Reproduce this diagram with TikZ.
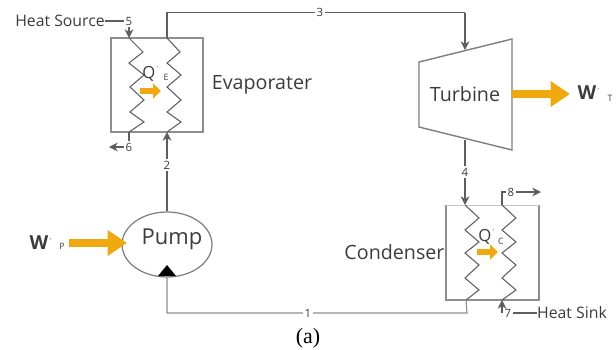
\documentclass[tikz,border=0pt]{standalone}
\usepackage{fontspec}
\setsansfont{Open Sans}
\setmainfont{Liberation Serif}
\usetikzlibrary{arrows.meta,shapes.geometric}
\definecolor{linegray}{HTML}{5E5E5E}
\definecolor{boxgray}{HTML}{8E8E8E}
\definecolor{workgold}{HTML}{EFA90F}
\definecolor{textgray}{HTML}{3C3C3C}
\tikzset{
  pipe/.style={draw=linegray,line width=0.65pt},
  flow/.style={pipe,-{Stealth[length=5pt,width=5pt]}},
  coil/.style={draw=linegray,line width=0.6pt},
  unitbox/.style={draw=boxgray,line width=0.9pt},
  lbl/.style={font=\sffamily\fontsize{11.2}{13}\selectfont,text=textgray,inner sep=0pt},
  heatlbl/.style={font=\sffamily\fontsize{9}{11}\selectfont,text=textgray,inner sep=0pt},
  qlbl/.style={font=\sffamily\fontsize{9.5}{11}\selectfont,text=textgray,inner sep=0pt},
  wlbl/.style={font=\sffamily\bfseries\fontsize{11}{13}\selectfont,text=textgray,inner sep=0pt},
  num/.style={font=\sffamily\fontsize{6.5}{7}\selectfont,text=textgray,fill=white,inner sep=1pt},
  sub/.style={font=\sffamily\fontsize{5}{6}\selectfont,text=textgray,inner sep=0pt},
  bigwork/.style={draw=workgold,line width=4.5pt,-{Triangle[length=11pt,width=14pt]}},
  smallwork/.style={draw=workgold,line width=3pt,-{Triangle[length=4.5pt,width=8.5pt]}}
}
\newcommand{\wdot}{\raisebox{5pt}{\fontsize{4}{4}\selectfont$\cdot$}}
\begin{document}
\begin{tikzpicture}[x=0.02cm,y=-0.02cm]
\useasboundingbox (0,0) rectangle (616,349);

% evaporater
\draw[unitbox] (111,38) rectangle (203,132);
\coordinate (evapleft) at (129,38);
\coordinate (evapleftend) at (129,132);
\coordinate (evapright) at (167,38);
\coordinate (evaprightend) at (167,132);
\draw[coil] (evapleft) -- (143,52) -- (129,63) -- (144,75) -- (130,87) -- (144,100) -- (130,112) -- (144,122) -- (evapleftend);
\draw[coil] (evapright) -- (180,52) -- (167,63) -- (181,75) -- (167,87) -- (181,100) -- (167,112) -- (181,122) -- (evaprightend);
\node[lbl] (evaplabel) at (262,85) {Evaporater};
\node[qlbl] (qe) at (151,73) {Q\wdot};
\node[sub] (qesub) at (166,77) {E};
\coordinate (qestart) at (140,91);
\coordinate (qeend) at (161,91);
\draw[smallwork] (qestart) -- (qeend);

% condenser
\draw[unitbox] (446,205) -- (446,300) -- (539,300) -- (539,205);
\draw[draw=boxgray!50,line width=0.5pt] (446,205) -- (539,205);
\coordinate (condleft) at (465,205);
\coordinate (condleftend) at (466,300);
\coordinate (condright) at (502,205);
\coordinate (condrightend) at (502,300);
\draw[coil] (condleft) -- (479,218) -- (465,230) -- (479,242) -- (465,253) -- (479,265) -- (465,278) -- (479,290) -- (condleftend);
\draw[coil] (condright) -- (516,218) -- (502,230) -- (516,242) -- (502,253) -- (516,265) -- (502,278) -- (516,290) -- (condrightend);
\node[lbl] (condlabel) at (394.5,252) {Condenser};
\node[qlbl] (qc) at (487,236) {Q\wdot};
\node[sub] (qcsub) at (501,241) {C};
\coordinate (qcstart) at (477,252);
\coordinate (qcend) at (498,252);
\draw[smallwork] (qcstart) -- (qcend);

% turbine
\draw[draw=linegray!80,line width=0.8pt,fill=white] (419,62) -- (512,39) -- (512,150) -- (419,127) -- cycle;
\coordinate (turbinein) at (465,50);
\coordinate (turbineout) at (465,140);
\node[lbl] (turbine) at (465,94) {Turbine};
\coordinate (wtstart) at (512,94);
\coordinate (wtend) at (570,94);
\draw[bigwork] (wtstart) -- (wtend);
\node[wlbl] (wt) at (589,93) {W\wdot};
\node[sub] (wtsub) at (610,98) {T};

% pump
\node[ellipse,draw=linegray!80,line width=0.7pt,minimum width=1.8cm,minimum height=1.3cm,inner sep=0pt] (pump) at (167,244.5) {};
\node[lbl,font=\sffamily\fontsize{12.5}{15}\selectfont] (pumplabel) at (172,239) {Pump};
\fill (167,265) -- (176,276) -- (158,276) -- cycle;
\coordinate (wpstart) at (69,243);
\coordinate (wpend) at (127,243);
\draw[bigwork] (wpstart) -- (wpend);
\node[wlbl] (wp) at (41,243) {W\wdot};
\node[sub] (wpsub) at (62,246) {P};

% cycle lines
\coordinate (topleft) at (167,12.5);
\coordinate (topright) at (465,12.5);
\coordinate (botleft) at (167,313);
\coordinate (botright) at (467,313);
\draw[pipe] (evapright) -- (topleft) -- (topright);
\draw[flow] (topright) -- (turbinein);
\node[num] (n3) at (320,12.5) {3};
\draw[flow] (turbineout) -- (condleft);
\node[num] (n4) at (465,172) {4};
\draw[pipe,draw=boxgray] (condleftend) -- (botright) -- (botleft) -- (pump.south);
\node[num] (n1) at (308,313) {1};
\draw[flow] (pump.north) -- (evaprightend);
\node[num] (n2) at (167,165) {2};

% heat source and sink
\node[heatlbl] (source) at (60,21) {Heat Source};
\node[num] (n5) at (129,21) {5};
\draw[pipe] (source.east) -- (n5);
\draw[flow] (n5) -- (evapleft);
\node[num] (n6) at (129,147) {6};
\draw[pipe] (evapleftend) -- (n6);
\coordinate (out6) at (109,147);
\draw[flow] (n6) -- (out6);
\node[heatlbl] (sink) at (572,313) {Heat Sink};
\node[num] (n7) at (508,313) {7};
\draw[pipe] (n7) -- (sink);
\coordinate (in7) at (502,313);
\draw[flow] (in7) -- (condrightend);
\node[num] (n8) at (511,192) {8};
\coordinate (corner8) at (502,192);
\coordinate (out8) at (541,192);
\draw[pipe] (condright) -- (corner8) -- (n8);
\draw[flow] (n8) -- (out8);

\node[font=\rmfamily\fontsize{12.5}{14}\selectfont] (caption) at (308,338) {(a)};
\end{tikzpicture}
\end{document}
